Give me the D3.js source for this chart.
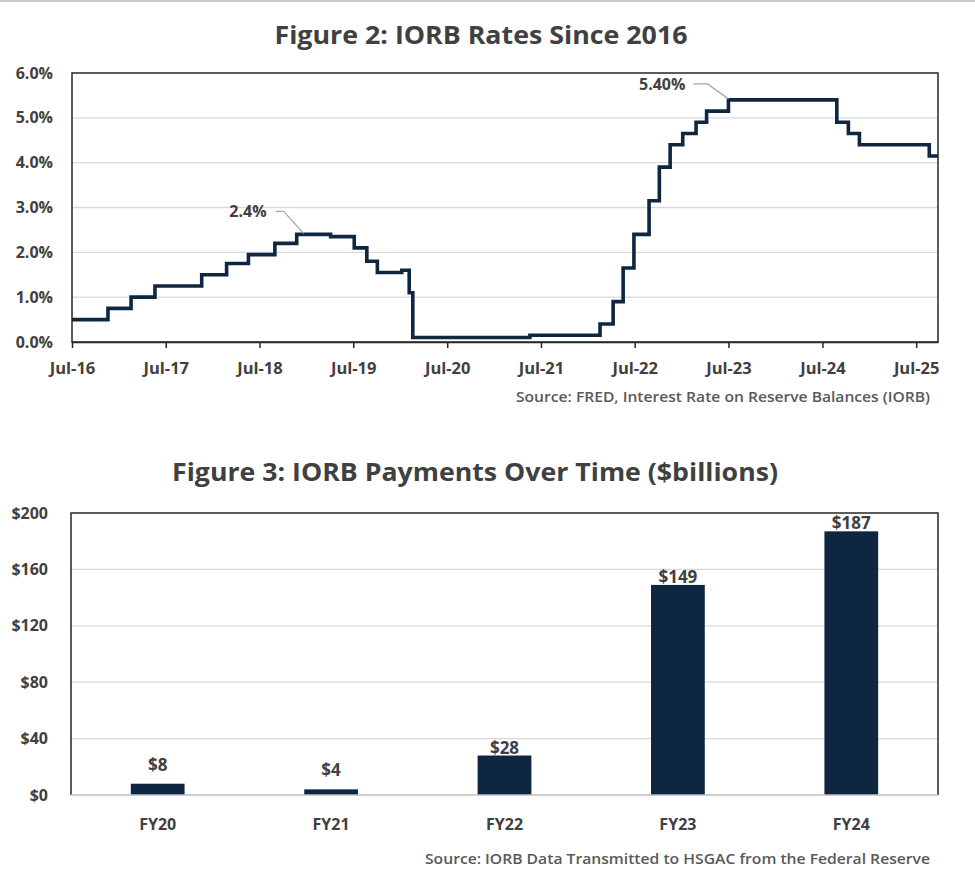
<!DOCTYPE html>
<html>
<head>
<meta charset="utf-8">
<script src="https://cdn.jsdelivr.net/npm/d3@7"></script>
<style>
  html, body { margin: 0; padding: 0; background: #fff; }
  svg { display: block; font-family: "Open Sans", "Noto Sans", sans-serif; }
</style>
</head>
<body>
<svg id="chart" width="975" height="886"></svg>
<script>
// ---------- Figure 2 data: IORB step series (start date of each level, rate in %) ----------
const rateDates = [
  "2016-07-01","2016-11-18","2017-02-16","2017-05-20","2017-11-18","2018-02-23",
  "2018-05-19","2018-08-30","2018-11-23","2019-04-04","2019-07-05","2019-08-23",
  "2019-10-03","2020-01-06","2020-02-04","2020-02-18","2021-05-19","2022-02-16",
  "2022-04-08","2022-05-17","2022-06-28","2022-08-26","2022-10-05","2022-11-16",
  "2023-01-04","2023-02-25","2023-04-07","2023-07-01","2024-08-26","2024-10-10",
  "2024-11-22","2025-08-21","2025-09-24"
];
const rateValues = [
  0.50, 0.75, 1.00, 1.25, 1.50, 1.75,
  1.95, 2.20, 2.40, 2.35, 2.10, 1.80,
  1.55, 1.60, 1.10, 0.10, 0.15, 0.40,
  0.90, 1.65, 2.40, 3.15, 3.90, 4.40,
  4.65, 4.90, 5.15, 5.40, 4.90, 4.65,
  4.40, 4.15, 4.15
];
const xTickDates = ["2016-07-01","2017-07-01","2018-07-01","2019-07-01","2020-07-01",
                    "2021-07-01","2022-07-01","2023-07-01","2024-07-01","2025-07-01"];
const xTickLabels = ["Jul-16","Jul-17","Jul-18","Jul-19","Jul-20","Jul-21","Jul-22","Jul-23","Jul-24","Jul-25"];
const yTickValues = [0, 1, 2, 3, 4, 5, 6];
const annotDates = ["2018-12-20", "2023-07-01"];
const annotValues = [2.40, 5.40];
const annotLabels = ["2.4%", "5.40%"];

// ---------- Figure 3 data ----------
const fyCategories = ["FY20","FY21","FY22","FY23","FY24"];
const fyPayments = [8, 4, 28, 149, 187];
const payTickValues = [0, 40, 80, 120, 160, 200];

const NAVY = "#0f2640";
const TXT = "#404040";
const SRC = "#595959";
const GRID = "#d9d9d9";
const BORDER = "#262626";

const parse = d3.utcParse("%Y-%m-%d");
const svg = d3.select("#chart");

// top thin gray line at image top
svg.append("rect").attr("x",0).attr("y",0).attr("width",975).attr("height",2).attr("fill","#c8c8c8");

function fitText(sel, w) {
  sel.attr("textLength", w).attr("lengthAdjust", "spacingAndGlyphs");
}

// ================= Figure 2 =================
{
  const L = 72, R = 938, T = 73, B = 342;
  const x = d3.scaleUtc().domain([parse(rateDates[0]), parse(rateDates[rateDates.length-1])]).range([L, R]);
  const y = d3.scaleLinear().domain([0, 6]).range([B, T]);
  const g = svg.append("g");

  // title
  g.append("text").attr("x", 481).attr("y", 44).attr("text-anchor","middle")
    .attr("font-size", 25).attr("font-weight", 700).attr("fill", TXT)
    .text("Figure 2: IORB Rates Since 2016").call(fitText, 413);

  // gridlines
  g.append("g").selectAll("line").data(yTickValues.filter(v => v > 0 && v < 6)).join("line")
    .attr("x1", L).attr("x2", R).attr("y1", d => y(d)).attr("y2", d => y(d))
    .attr("stroke", GRID).attr("stroke-width", 1.3);

  // step line
  const data = rateDates.map((d, i) => ({date: parse(d), v: rateValues[i]}));
  const line = d3.line().x(d => x(d.date)).y(d => y(d.v)).curve(d3.curveStepAfter);
  g.append("path").datum(data).attr("d", line).attr("fill","none")
    .attr("stroke", NAVY).attr("stroke-width", 3.6).attr("stroke-linejoin","miter");

  // frame
  g.append("rect").attr("x", L).attr("y", T).attr("width", R - L).attr("height", B - T)
    .attr("fill","none").attr("stroke", BORDER).attr("stroke-width", 1.5);

  // y axis labels
  const yAxis = d3.axisLeft(y).tickValues(yTickValues).tickSize(0).tickPadding(0)
    .tickFormat(d => d3.format(".1f")(d) + "%");
  const ya = g.append("g").attr("transform", `translate(${L - 19},0)`).call(yAxis);
  ya.select(".domain").remove();
  ya.selectAll("text").attr("font-size", 16).attr("font-weight", 700).attr("fill", TXT)
    .attr("font-family", "Open Sans");

  // x axis
  const xAxis = d3.axisBottom(x).tickValues(xTickDates.map(parse)).tickSizeInner(6).tickSizeOuter(0)
    .tickPadding(14).tickFormat((d, i) => xTickLabels[i]);
  const xa = g.append("g").attr("transform", `translate(0,${B})`).call(xAxis);
  xa.select(".domain").attr("stroke", BORDER).attr("stroke-width", 1.5);
  xa.selectAll(".tick line").attr("stroke", BORDER).attr("stroke-width", 1.5);
  xa.selectAll("text").attr("font-size", 16.5).attr("font-weight", 700).attr("fill", TXT)
    .attr("font-family", "Open Sans");

  // annotations (leader geometry is styling: knee offset, horizontal run, text gap)
  const leader = [{kx: -20, ky: -22, run: 8, gap: 9}, {kx: -21, ky: -15, run: 14, gap: 8}];
  annotDates.forEach((d, i) => {
    const px = x(parse(d)), py = y(annotValues[i]) - 1;
    const o = leader[i];
    const kx = px + o.kx, ky = py + o.ky;
    g.append("polyline")
      .attr("points", `${kx - o.run},${ky} ${kx},${ky} ${px},${py}`)
      .attr("fill","none").attr("stroke","#a6a6a6").attr("stroke-width", 1.3);
    g.append("text").attr("x", kx - o.run - o.gap).attr("y", ky + 6).attr("text-anchor","end")
      .attr("font-size", 16).attr("font-weight", 700).attr("fill", TXT).text(annotLabels[i]);
  });

  // source
  g.append("text").attr("x", 930).attr("y", 402).attr("text-anchor","end")
    .attr("font-size", 14).attr("font-weight", 600).attr("fill", SRC)
    .text("Source: FRED, Interest Rate on Reserve Balances (IORB)").call(fitText, 414);
}

// ================= Figure 3 =================
{
  const L = 71, R = 938, T = 513, B = 795;
  const x = d3.scaleBand().domain(fyCategories).range([L, R]).paddingInner(0.69).paddingOuter(0.345);
  const y = d3.scaleLinear().domain([0, 200]).range([B, T]);
  const g = svg.append("g");

  g.append("text").attr("x", 475).attr("y", 481).attr("text-anchor","middle")
    .attr("font-size", 25).attr("font-weight", 700).attr("fill", TXT)
    .text("Figure 3: IORB Payments Over Time ($billions)").call(fitText, 606);

  g.append("g").selectAll("line").data(payTickValues.filter(v => v > 0 && v < 200)).join("line")
    .attr("x1", L).attr("x2", R).attr("y1", d => y(d)).attr("y2", d => y(d))
    .attr("stroke", GRID).attr("stroke-width", 1.3);

  g.append("g").selectAll("rect").data(fyPayments).join("rect")
    .attr("x", (d, i) => x(fyCategories[i])).attr("width", x.bandwidth())
    .attr("y", d => y(d)).attr("height", d => B - y(d)).attr("fill", NAVY);

  // frame: dark top/left/right, gray bottom axis
  g.append("path").attr("d", `M${L},${B} V${T} H${R} V${B}`).attr("fill","none")
    .attr("stroke", BORDER).attr("stroke-width", 1.5);
  g.append("line").attr("x1", L).attr("x2", R).attr("y1", B).attr("y2", B)
    .attr("stroke", "#bfbfbf").attr("stroke-width", 1.5);

  // bar value labels
  g.append("g").selectAll("text").data(fyPayments).join("text")
    .attr("x", (d, i) => x(fyCategories[i]) + x.bandwidth() / 2)
    .attr("y", d => y(d) - (d < 20 ? 13 : 2))
    .attr("text-anchor","middle").attr("font-size", 17).attr("font-weight", 700).attr("fill", TXT)
    .text(d => "$" + d);

  const yAxis = d3.axisLeft(y).tickValues(payTickValues).tickSize(0).tickPadding(0).tickFormat(d => "$" + d);
  const ya = g.append("g").attr("transform", `translate(${L - 23},0)`).call(yAxis);
  ya.select(".domain").remove();
  ya.selectAll("text").attr("font-size", 16).attr("font-weight", 700).attr("fill", TXT)
    .attr("font-family", "Open Sans");

  const xAxis = d3.axisBottom(x).tickSize(0).tickPadding(24);
  const xa = g.append("g").attr("transform", `translate(0,${B})`).call(xAxis);
  xa.select(".domain").remove();
  xa.selectAll("text").attr("font-size", 16).attr("font-weight", 700).attr("fill", TXT)
    .attr("font-family", "Open Sans");

  g.append("text").attr("x", 930).attr("y", 864).attr("text-anchor","end")
    .attr("font-size", 14).attr("font-weight", 600).attr("fill", SRC)
    .text("Source: IORB Data Transmitted to HSGAC from the Federal Reserve").call(fitText, 505);
}
</script>
</body>
</html>
